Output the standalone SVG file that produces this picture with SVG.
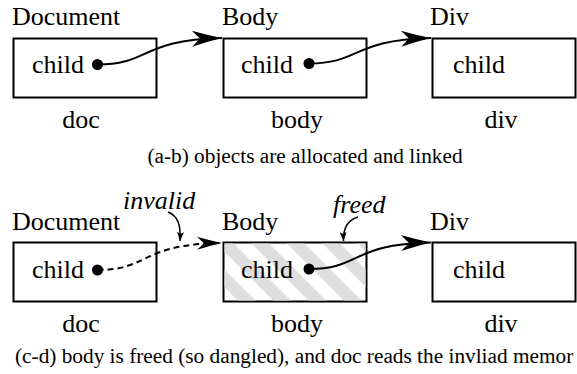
<svg xmlns="http://www.w3.org/2000/svg" width="577" height="374" viewBox="0 0 577 374" font-family="'Liberation Serif', 'Times New Roman', 'DejaVu Serif', serif">
<style>
text{font-family:'Liberation Serif','Times New Roman','DejaVu Serif',serif;fill:#000}
.lbl{font-size:26px}
.cap{font-size:21.3px}
.it{font-size:26px;font-style:italic}
.box{fill:#fff;stroke:#000;stroke-width:2}
.link{fill:none;stroke:#000;stroke-width:2}
.dash{fill:none;stroke:#000;stroke-width:2;stroke-dasharray:6 4}
.note{fill:none;stroke:#000;stroke-width:1.5}
</style>
<defs>
<marker id="big" markerUnits="userSpaceOnUse" viewBox="-32 -10 34 20" markerWidth="34" markerHeight="20" refX="0" refY="0" orient="auto">
<path d="M0,0 Q-14,-3 -30,-8 L-22,0 L-30,8 Q-14,3 0,0 Z" fill="#000"/>
</marker>
<marker id="mid" markerUnits="userSpaceOnUse" viewBox="-28 -9 30 18" markerWidth="30" markerHeight="18" refX="0" refY="0" orient="auto">
<path d="M0,0 Q-12,-2.5 -25,-6.5 L-18,0 L-25,6.5 Q-12,2.5 0,0 Z" fill="#000"/>
</marker>
<marker id="small" markerUnits="userSpaceOnUse" viewBox="-11 -5 12 10" markerWidth="12" markerHeight="10" refX="0" refY="0" orient="auto">
<path d="M0,0 L-9,-3.5 L-7,0 L-9,3.5 Z" fill="#000"/>
</marker>
<pattern id="hatch" patternUnits="userSpaceOnUse" width="25" height="25" patternTransform="rotate(-45) translate(5.66 0)">
<rect x="0" y="0" width="12.5" height="25" fill="#dedede"/>
</pattern>
</defs>

<g id="panel-ab">
<g id="doc-ab">
<text class="lbl" x="12" y="25">Document</text>
<rect class="box" x="13.5" y="38.5" width="143" height="59"/>
<text class="lbl" x="32" y="73">child</text>
<circle cx="97.5" cy="64.5" r="5.5" fill="#000"/>
<text class="lbl" x="81" y="128" text-anchor="middle">doc</text>
</g>
<g id="body-ab">
<text class="lbl" x="222" y="25">Body</text>
<rect class="box" x="223.5" y="38.5" width="143" height="59"/>
<text class="lbl" x="241" y="73">child</text>
<circle cx="309" cy="63.5" r="5.5" fill="#000"/>
<text class="lbl" x="297" y="128" text-anchor="middle">body</text>
</g>
<g id="div-ab">
<text class="lbl" x="430" y="25">Div</text>
<rect class="box" x="432.5" y="38.5" width="143" height="59"/>
<text class="lbl" x="453" y="73">child</text>
<text class="lbl" x="501" y="128" text-anchor="middle">div</text>
</g>
<text class="cap" x="305" y="163" text-anchor="middle">(a-b) objects are allocated and linked</text>
</g>

<g id="panel-cd">
<g id="doc-cd">
<text class="lbl" x="12" y="230">Document</text>
<rect class="box" x="13.5" y="242.5" width="143" height="59"/>
<text class="lbl" x="32" y="278">child</text>
<circle cx="97.5" cy="270" r="5.5" fill="#000"/>
<text class="lbl" x="81" y="332" text-anchor="middle">doc</text>
</g>
<g id="body-cd">
<text class="lbl" x="222" y="230">Body</text>
<rect class="box" x="223.5" y="242.5" width="143" height="59"/>
<rect x="224.5" y="243.5" width="141" height="57" fill="url(#hatch)"/>
<text class="lbl" x="241" y="278">child</text>
<circle cx="309" cy="269" r="5.5" fill="#000"/>
<text class="lbl" x="297" y="332" text-anchor="middle">body</text>
</g>
<g id="div-cd">
<text class="lbl" x="430" y="230">Div</text>
<rect class="box" x="432.5" y="242.5" width="143" height="59"/>
<text class="lbl" x="453" y="278">child</text>
<text class="lbl" x="501" y="332" text-anchor="middle">div</text>
</g>
<text class="it" x="123" y="209">invalid</text>
<text class="it" x="333" y="213">freed</text>
<text class="cap" x="15" y="363">(c-d) body is freed (so dangled), and doc reads the invliad memor</text>
</g>

<g id="connectors">
<path class="link" d="M97.5,64.5 C150,64.5 140,40 222,38" marker-end="url(#big)"/>
<path class="link" d="M309,63.5 C361,63.5 351,40 431,38" marker-end="url(#big)"/>
<path class="dash" d="M97.5,270 C150,270 140,244 222,243" marker-end="url(#mid)"/>
<path class="link" d="M309,269 C361,269 351,244 431,242.5" marker-end="url(#big)"/>
<path class="note" d="M168,212 C178,216 181,225 180,241" marker-end="url(#small)"/>
<path class="note" d="M358,217 C348,220 343,228 343.5,241" marker-end="url(#small)"/>
</g>
</svg>
